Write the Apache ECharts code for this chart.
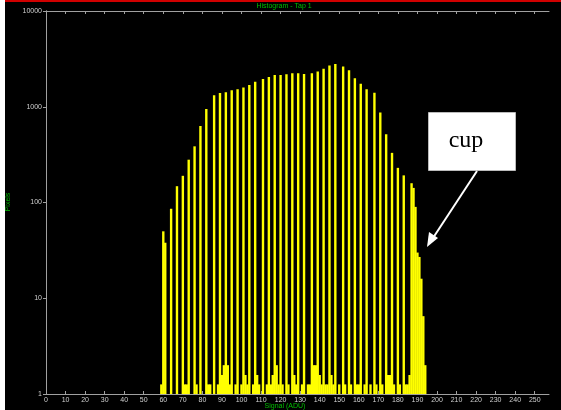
<!DOCTYPE html>
<html><head><meta charset="utf-8">
<script src="https://cdn.jsdelivr.net/npm/echarts@6/dist/echarts.min.js"></script>
<style>html,body{margin:0;padding:0;background:#fff;}#c{width:561px;height:410px;}</style>
</head><body><div id="c"></div>
<script>
// Tall (quantised) histogram bins: signal value (ADU) and pixel counts
const tallBins   = [60,61,64,67,70,73,76,79,82,86,89,92,95,98,101,104,107,111,114,117,120,123,126,129,132,136,139,142,145,148,152,155,158,161,164,168,171,174,177,180,183,187,188,189,190,191,192,193,194];
const tallCounts = [50,38,86,148,190,280,386,630,950,1320,1390,1420,1490,1520,1590,1690,1820,1950,2050,2150,2150,2190,2240,2240,2200,2240,2340,2500,2700,2790,2640,2400,1990,1740,1520,1400,870,515,330,230,192,159,142,90,30,27,16,6.5,2];
// Sparse low-count bins between the tall ones
const lowBins   = [59,71,72,77,83,84,88,90,91,93,94,97,100,102,103,106,108,109,113,115,116,118,119,121,124,127,128,131,134,135,137,138,140,141,143,144,146,147,150,153,156,159,160,163,166,169,172,175,176,178,181,184,185,186];
const lowCounts = [1.26,1.26,1.26,1.26,1.26,1.26,1.26,1.58,2.0,2.0,1.26,1.26,1.26,1.58,1.26,1.26,1.58,1.26,1.26,1.26,1.58,2.0,1.26,1.26,1.26,1.58,1.26,1.26,1.26,1.26,2.0,2.0,1.58,1.26,1.26,1.26,1.58,1.26,1.26,1.26,1.26,1.26,1.26,1.26,1.26,1.26,1.26,1.58,1.58,1.26,1.26,1.26,1.26,1.58];
const xTicks = [0,10,20,30,40,50,60,70,80,90,100,110,120,130,140,150,160,170,180,190,200,210,220,230,240,250];
const titleText = 'Histogram - Tap 1';
const xName = 'Signal (ADU)';
const yName = 'Pixels';
const noteText = 'cup';

const data = [];
tallBins.forEach((b,i)=>data.push([b, tallCounts[i]]));
lowBins.forEach((b,i)=>data.push([b, lowCounts[i]]));
data.sort((a,b)=>a[0]-b[0]);

const frame = '#a0a0a0';
const lab = '#d0d0d0';
const green = '#00c000';
const chart = echarts.init(document.getElementById('c'), null, {renderer:'canvas'});
chart.setOption({
  animation:false,
  backgroundColor:'#000',
  grid:{left:46, top:11, right:12, bottom:16},
  xAxis:[
    {type:'value', min:0, max:257.3, position:'bottom',
     axisLine:{lineStyle:{color:frame,width:1}},
     axisTick:{inside:true,length:3,customValues:xTicks,lineStyle:{color:frame}},
     axisLabel:{customValues:xTicks,color:lab,fontSize:7,fontFamily:'Liberation Sans',margin:3},
     splitLine:{show:false}},
    {type:'value', min:0, max:257.3, position:'top',
     axisLine:{lineStyle:{color:frame,width:1}},
     axisTick:{inside:true,length:3,customValues:xTicks,lineStyle:{color:frame}},
     axisLabel:{show:false}, splitLine:{show:false}}
  ],
  yAxis:[
    {type:'log', logBase:10, min:1, max:10000, position:'left',
     axisLine:{show:true,lineStyle:{color:frame,width:1}},
     axisTick:{show:true,inside:false,length:3,lineStyle:{color:frame}},
     axisLabel:{color:lab,fontSize:7,fontFamily:'Liberation Sans',margin:4,formatter:v=>String(Math.round(v))},
     splitLine:{show:false}, minorTick:{show:false}},
    {type:'log', logBase:10, min:1, max:10000, position:'right',
     axisLine:{show:true,lineStyle:{color:frame,width:1}},
     axisTick:{show:true,inside:true,length:3,lineStyle:{color:frame}},
     axisLabel:{show:false}, splitLine:{show:false}}
  ],
  series:[{
    type:'bar', xAxisIndex:0, yAxisIndex:0, data:data, barWidth:2.4,
    itemStyle:{color:'#ffff00'}, silent:true
  }],
  graphic:[
    {type:'rect', shape:{x:0,y:0,width:5,height:410}, style:{fill:'#fff'}, z:100},
    {type:'line', shape:{x1:5,y1:1,x2:561,y2:1}, style:{stroke:'#d00000',lineWidth:2}, z:100},
    {type:'text', x:284, y:6, style:{text:titleText, fill:green, font:'7px "Liberation Sans"', align:'center', verticalAlign:'middle'}, z:100},
    {type:'text', x:285, y:406, style:{text:xName, fill:green, font:'7px "Liberation Sans"', align:'center', verticalAlign:'middle'}, z:100},
    {type:'text', x:8, y:202, rotation:Math.PI/2, style:{text:yName, fill:green, font:'7px "Liberation Sans"', align:'center', verticalAlign:'middle'}, z:100},
    {type:'rect', shape:{x:428.5,y:112.5,width:87,height:58}, style:{fill:'#fff',stroke:'#bbb',lineWidth:1}, z:100},
    {type:'text', x:466, y:141, style:{text:noteText, fill:'#000', font:'24px "Liberation Serif"', align:'center', verticalAlign:'middle'}, z:101},
    {type:'line', shape:{x1:477,y1:171,x2:433,y2:238}, style:{stroke:'#fff',lineWidth:2}, z:100},
    {type:'polygon', shape:{points:[[427,247],[429,232],[438,238]]}, style:{fill:'#fff'}, z:100}
  ]
});
</script></body></html>
